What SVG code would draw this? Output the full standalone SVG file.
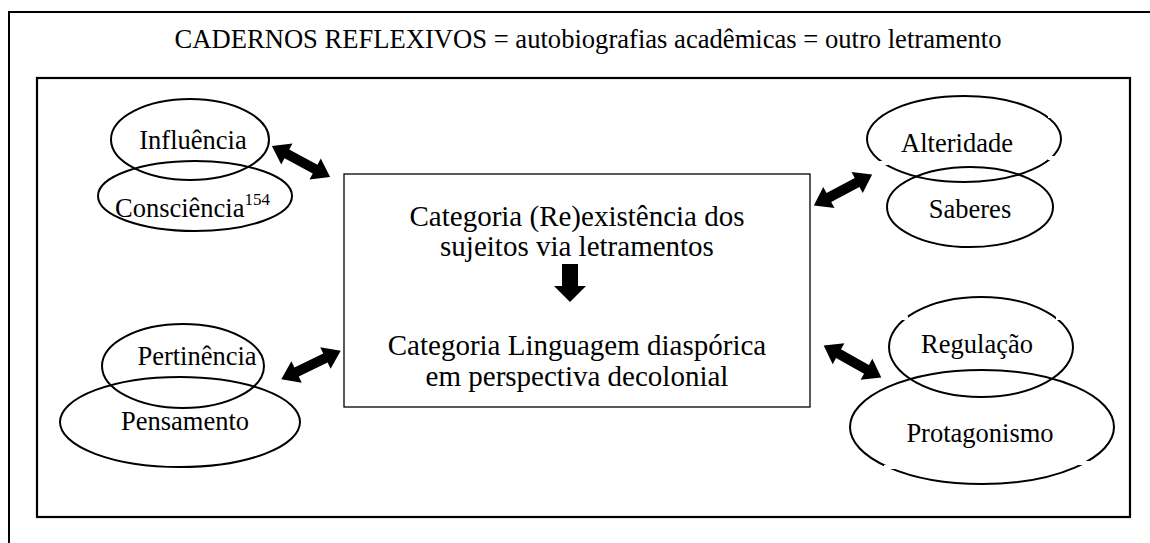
<svg xmlns="http://www.w3.org/2000/svg" width="1150" height="543" viewBox="0 0 1150 543">
<style>
.t{font-family:"Liberation Serif","Times New Roman",serif;fill:#000;text-anchor:middle}
.lbl{font-size:26.5px}
.c{font-size:29px}
.e{fill:none;stroke:#000;stroke-width:2}
.frame{fill:none;stroke:#000}
.gap{fill:#fff}
</style>
<defs>
<polygon id="darr" points="-33,0 -16,-12 -16,-5 16,-5 16,-12 33,0 16,12 16,5 -16,5 -16,12" fill="#000"/>
</defs>
<rect width="1150" height="543" fill="#fff"/>
<g id="frame">
<path class="frame" stroke-width="2" d="M9,543 V12 H1152"/>
<text class="t" x="588" y="48" font-size="26.6">CADERNOS REFLEXIVOS = autobiografias acadêmicas = outro letramento</text>
<rect class="frame" stroke-width="2.2" x="37" y="78" width="1093" height="439"/>
</g>
<g id="center">
<rect class="frame" stroke-width="1.3" x="344" y="174" width="466" height="233" fill="#fff"/>
<text class="t c" x="577" y="226">Categoria (Re)existência dos</text>
<text class="t c" x="577" y="256">sujeitos via letramentos</text>
<polygon points="562,264 578,264 578,286 586,286 570,302 554,286 562,286" fill="#000"/>
<text class="t c" x="577" y="355">Categoria Linguagem diaspórica</text>
<text class="t c" x="577" y="386">em perspectiva decolonial</text>
</g>
<g id="influencia">
<ellipse class="e" cx="190" cy="139.5" rx="79" ry="40.5"/>
<text class="t lbl" x="193" y="149">Influência</text>
</g>
<g id="consciencia">
<ellipse class="e" cx="195" cy="196" rx="97" ry="35"/>
<text class="t lbl" x="192.5" y="217">Consciência<tspan font-size="17" dy="-12">154</tspan></text>
</g>
<g id="alteridade">
<ellipse class="e" cx="964" cy="139" rx="97" ry="43"/>
<rect class="gap" x="1048" y="114" width="16" height="4"/>
<rect class="gap" x="1048" y="156" width="16" height="4"/>
<rect class="gap" x="876" y="161" width="12" height="4"/>
<text class="t lbl" x="957" y="152">Alteridade</text>
</g>
<g id="saberes">
<ellipse class="e" cx="970" cy="207" rx="83" ry="40"/>
<text class="t lbl" x="970" y="218">Saberes</text>
</g>
<g id="pertinencia">
<ellipse class="e" cx="183" cy="366" rx="81" ry="42"/>
<text class="t lbl" x="197" y="365">Pertinência</text>
</g>
<g id="pensamento">
<ellipse class="e" cx="180" cy="422" rx="120" ry="45"/>
<text class="t lbl" x="185" y="430">Pensamento</text>
</g>
<g id="regulacao">
<ellipse class="e" cx="981" cy="347" rx="92" ry="50"/>
<rect class="gap" x="896" y="316" width="12" height="4"/>
<rect class="gap" x="1056" y="316" width="14" height="4"/>
<text class="t lbl" x="977" y="353">Regulação</text>
</g>
<g id="protagonismo">
<ellipse class="e" cx="982" cy="427" rx="132" ry="57"/>
<rect class="gap" x="884" y="465" width="14" height="4"/>
<rect class="gap" x="1078" y="461" width="16" height="4"/>
<text class="t lbl" x="980" y="442">Protagonismo</text>
</g>
<g id="connectors">
<use href="#darr" transform="translate(301,161.5) rotate(28.1)"/>
<use href="#darr" transform="translate(843,190) rotate(-28)"/>
<use href="#darr" transform="translate(311,365) rotate(-25.8)"/>
<use href="#darr" transform="translate(852.5,361.5) rotate(29.2)"/>
</g>
</svg>
